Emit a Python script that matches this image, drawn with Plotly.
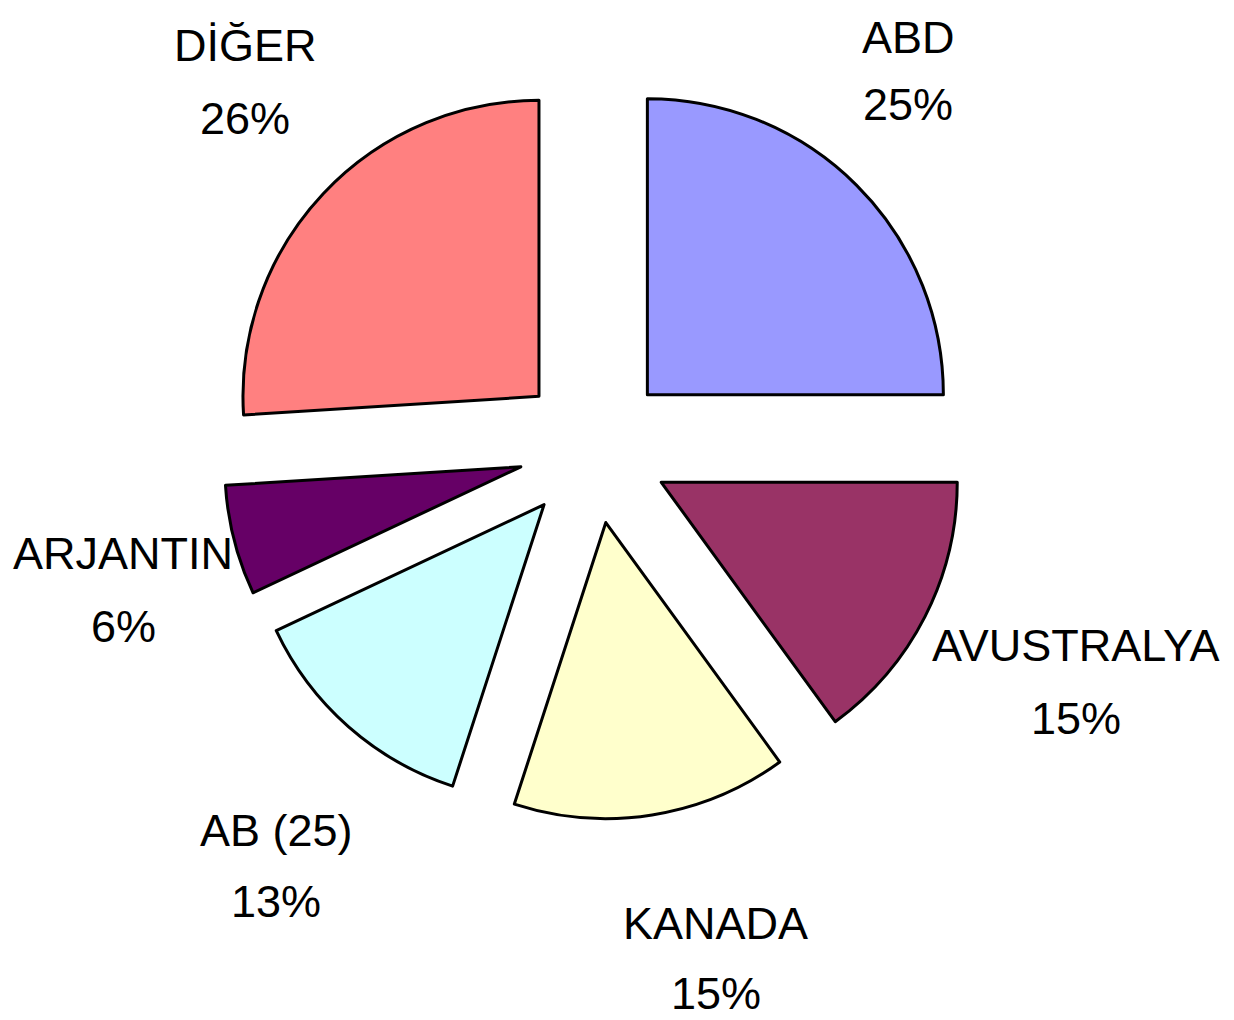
import plotly.graph_objects as go

# Data
labels = ["ABD", "AVUSTRALYA", "KANADA", "AB (25)", "ARJANTIN", "DİĞER"]
values = [25, 15, 15, 13, 6, 26]
colors = ["#9999FF", "#993366", "#FFFFCC", "#CCFFFF", "#660066", "#FF8080"]

# Label placement: (x centre, name line centre y, percent line centre y) in page pixels
label_px = [(908, 37, 104), (1076, 645, 718), (716, 923, 993),
            (276, 830, 901), (123, 553, 626), (245, 46, 118)]

W, H = 1234, 1020
OFF = 8  # default page body margin in the rendered html
pull = 0.255
r = 296
cx, cy = 594, 448
half = r * (1 + pull)


def px_x(x):
    return (x - OFF) / W


def px_y(y):
    return 1 - (y - OFF) / H


fig = go.Figure()
fig.add_trace(go.Pie(
    labels=labels,
    values=values,
    sort=False,
    direction="clockwise",
    rotation=0,
    pull=[pull] * len(values),
    marker=dict(colors=colors, line=dict(color="black", width=3)),
    textinfo="none",
    hoverinfo="label+percent",
    showlegend=False,
    domain=dict(x=[px_x(cx - half), px_x(cx + half)],
                y=[px_y(cy + half), px_y(cy - half)]),
))

total = sum(values)
font = dict(family="Liberation Sans, Arial, sans-serif", size=45, color="black")
for lab, val, (px, py1, py2) in zip(labels, values, label_px):
    fig.add_annotation(
        x=px_x(px), y=px_y(py1), xref="paper", yref="paper",
        text=lab, showarrow=False, xanchor="center", yanchor="middle",
        font=font,
    )
    fig.add_annotation(
        x=px_x(px), y=px_y(py2), xref="paper", yref="paper",
        text=f"{round(100 * val / total)}%", showarrow=False,
        xanchor="center", yanchor="middle", font=font,
    )

fig.update_layout(
    width=W, height=H,
    margin=dict(l=0, r=0, t=0, b=0),
    paper_bgcolor="white", plot_bgcolor="white",
)
fig.write_html("out.html")
